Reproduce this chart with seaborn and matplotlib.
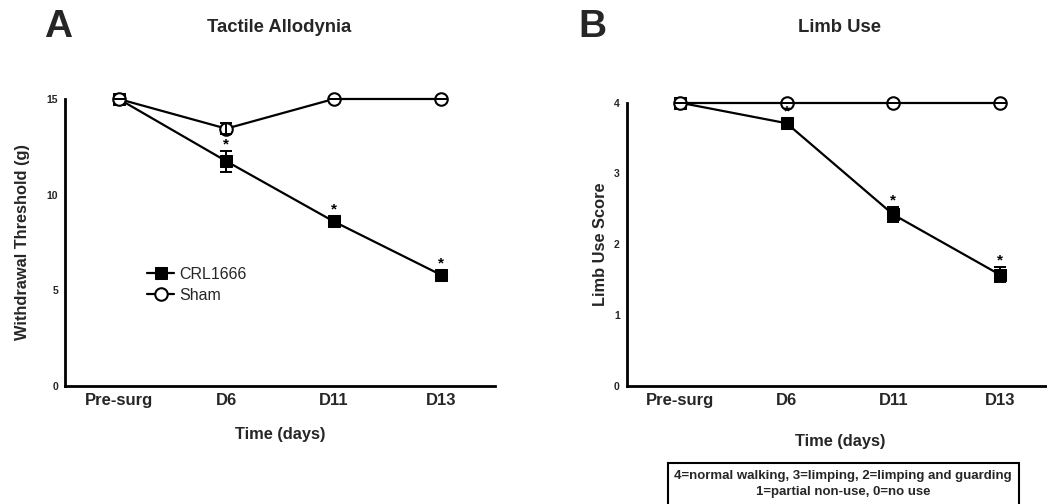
import numpy as np
import pandas as pd
import matplotlib
matplotlib.use("Agg")
import matplotlib.pyplot as plt
from matplotlib.patches import Rectangle
import seaborn as sns

sns.set_theme(style="white")
plt.rcParams['font.family'] = ['Liberation Sans', 'DejaVu Sans']

timepoints = ["Pre-surg", "D6", "D11", "D13"]

# Panel A: Tactile Allodynia
a_crl = [15.0, 11.75, 8.6, 5.8]
a_crl_err = [0.0, 0.55, 0.12, 0.12]
a_sham = [15.0, 13.45, 15.0, 15.0]
a_sham_err = [0.0, 0.3, 0.0, 0.0]
a_sig = [False, True, True, True]

# Panel B: Limb Use
b_crl = [4.0, 3.71, 2.42, 1.57]
b_crl_err = [0.0, 0.03, 0.11, 0.11]
b_sham = [4.0, 4.0, 4.0, 4.0]
b_sham_err = [0.0, 0.0, 0.0, 0.0]
b_sig = [False, True, True, True]

W, H = 1047, 504
fig = plt.figure(figsize=(W / 100, H / 100), dpi=100)
axA = fig.add_axes([0.0621, 0.2341, 0.4107, 0.5695])
axB = fig.add_axes([0.5986, 0.2347, 0.4072, 0.5615])


def draw(ax, crl, crl_err, sham, sham_err, sig, ymax, yticks, ylabel, xlabelpad):
    x = np.arange(len(timepoints))
    df_c = pd.DataFrame({"x": x, "y": crl})
    df_s = pd.DataFrame({"x": x, "y": sham})
    sns.lineplot(data=df_c, x="x", y="y", ax=ax, color="black", lw=1.6, marker="s",
                 markersize=8.5, markerfacecolor="black", markeredgecolor="black",
                 label="CRL1666", zorder=4, clip_on=False)
    sns.lineplot(data=df_s, x="x", y="y", ax=ax, color="black", lw=1.6, marker="o",
                 markersize=9, markerfacecolor="white", markeredgecolor="black",
                 markeredgewidth=1.5, label="Sham", zorder=5, clip_on=False)
    ax.errorbar(x, crl, yerr=crl_err, fmt="none", ecolor="black", elinewidth=1.4,
                capsize=4.5, capthick=1.4, zorder=6, clip_on=False)
    ax.errorbar(x, sham, yerr=sham_err, fmt="none", ecolor="black", elinewidth=1.4,
                capsize=4.5, capthick=1.4, zorder=6, clip_on=False)
    # significance asterisks placed just above the error bar / marker
    px_per_unit = ax.get_position().height * H / ymax
    for xi, yi, ei, s in zip(x, crl, crl_err, sig):
        if s:
            top_px = max(ei * px_per_unit, 5)
            t = ax.annotate("*", (xi, yi), xytext=(0, (top_px + 6.5) * 0.72),
                            textcoords="offset points", ha="center", va="center",
                            fontsize=11, fontweight="bold", color="black")
            t.set_zorder(10)
            t.set_clip_on(False)
    ax.set_xlim(-0.5, 3.5)
    ax.set_ylim(0, ymax)
    ax.set_xticks(x)
    ax.set_xticklabels(timepoints, fontsize=12, fontweight="bold")
    ax.set_yticks(yticks)
    ax.set_yticklabels([str(t) for t in yticks], fontsize=7.5, fontweight="bold")
    ax.tick_params(axis="x", direction="in", length=5, width=1.5, pad=5, color="black")
    ax.tick_params(axis="y", direction="out", length=4, width=1.5, pad=1, color="black")
    for sp in ["top", "right"]:
        ax.spines[sp].set_visible(False)
    for sp in ["left", "bottom"]:
        ax.spines[sp].set_linewidth(2)
        ax.spines[sp].set_color("black")
    ax.set_xlabel("Time (days)", fontsize=11.8, fontweight="bold", labelpad=xlabelpad)
    ax.set_ylabel(ylabel, fontsize=11.8, fontweight="bold")
    ax.patch.set_alpha(0)


draw(axA, a_crl, a_crl_err, a_sham, a_sham_err, a_sig, 15, [0, 5, 10, 15],
     "Withdrawal Threshold (g)", 14)
draw(axB, b_crl, b_crl_err, b_sham, b_sham_err, b_sig, 4, [0, 1, 2, 3, 4],
     "Limb Use Score", 19)
axA.yaxis.set_label_coords(-0.082, 0.5)
axB.yaxis.set_label_coords(-0.043, 0.5)

leg = axA.legend(loc="upper left", bbox_to_anchor=(0.176, 0.437), frameon=False,
                 fontsize=11.5, handlelength=1.7, handletextpad=0.3,
                 labelspacing=0.35, borderaxespad=0)
axB.get_legend().remove()

fig.text(58 / W, 1 - 27 / H, "A", fontsize=28, fontweight="bold",
         ha="center", va="center")
fig.text(279 / W, 1 - 28 / H, "Tactile Allodynia", fontsize=13.3,
         fontweight="bold", ha="center", va="center")
fig.text(592 / W, 1 - 27 / H, "B", fontsize=28, fontweight="bold",
         ha="center", va="center")
fig.text(839 / W, 1 - 28 / H, "Limb Use", fontsize=13.3,
         fontweight="bold", ha="center", va="center")

fig.add_artist(Rectangle((668 / W, -10 / H), (1019 - 668) / W, (H - 463 + 10) / H,
                         transform=fig.transFigure, facecolor="white",
                         edgecolor="black", linewidth=1.5))
fig.text(843 / W, 1 - 476.5 / H, "4=normal walking, 3=limping, 2=limping and guarding",
         fontsize=9.5, fontweight="bold", ha="center", va="center")
fig.text(843 / W, 1 - 492.5 / H, "1=partial non-use, 0=no use",
         fontsize=9.5, fontweight="bold", ha="center", va="center")

fig.savefig("out.png", dpi=100)
